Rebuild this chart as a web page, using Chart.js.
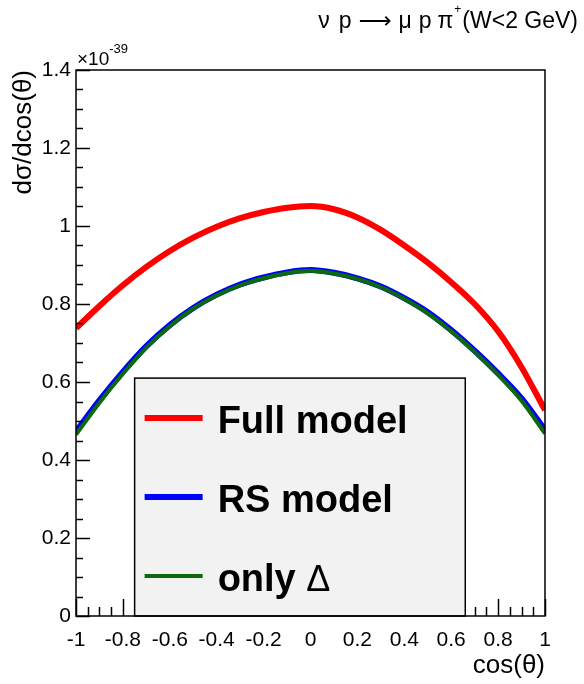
<!DOCTYPE html>
<html><head><meta charset="utf-8">
<script src="https://cdn.jsdelivr.net/npm/chart.js@4.4.1/dist/chart.umd.min.js"></script>
<style>html,body{margin:0;padding:0;background:#fff}#wrap{width:584px;height:684px}</style>
</head><body><div id="wrap"><canvas id="c"></canvas></div>
<script>
// values are in units of 1e-39 (axis multiplier shown top-left)
const cosTheta=[-1,-0.9,-0.8,-0.7,-0.6,-0.5,-0.4,-0.3,-0.2,-0.1,0,0.1,0.2,0.3,0.4,0.5,0.6,0.7,0.8,0.9,1];
const fullModel=[0.738,0.795,0.848,0.895,0.936,0.970,0.998,1.020,1.036,1.047,1.051,1.043,1.022,0.990,0.950,0.906,0.856,0.800,0.730,0.638,0.528];
const rsModel=[0.473,0.553,0.626,0.692,0.746,0.790,0.824,0.850,0.868,0.881,0.887,0.880,0.866,0.845,0.815,0.779,0.733,0.680,0.622,0.558,0.477];
const onlyDelta=[0.465,0.547,0.621,0.688,0.743,0.788,0.822,0.848,0.866,0.879,0.885,0.878,0.864,0.843,0.813,0.776,0.730,0.677,0.618,0.552,0.468];
const seriesNames=['Full model','RS model','only \u0394'];
const seriesColors=['#ff0000','#0000ff','#0b6b0b'];
const seriesWidths=[6,6,4];

const FONT='"Liberation Sans", Arial, sans-serif';
const pts=arr=>cosTheta.map((x,i)=>({x,y:arr[i]}));

const rootStyle={
  id:'rootStyle',
  afterDatasetsDraw(chart){
    const {ctx,chartArea:a,scales:{x,y}}=chart;
    ctx.save();
    ctx.strokeStyle='#000';ctx.lineWidth=1.5;
    // ticks inside the frame, ROOT style
    for(let v=0;v<=1.4001;v+=0.05){
      const major=Math.abs(v/0.2-Math.round(v/0.2))<1e-6;
      const py=Math.round(y.getPixelForValue(v))+0.5;
      ctx.beginPath();ctx.moveTo(a.left,py);ctx.lineTo(a.left+(major?14:7),py);ctx.stroke();
    }
    for(let v=-1;v<=1.0001;v+=0.05){
      const major=Math.abs(v/0.2-Math.round(v/0.2))<1e-6;
      const px=Math.round(x.getPixelForValue(v))+0.5;
      ctx.beginPath();ctx.moveTo(px,a.bottom);ctx.lineTo(px,a.bottom-(major?17:9));ctx.stroke();
    }
    // legend box
    const bx=x.getPixelForValue(-0.75), bx2=x.getPixelForValue(0.66), by=y.getPixelForValue(0.61);
    ctx.fillStyle='#f2f2f2';ctx.fillRect(bx,by,bx2-bx,a.bottom-by);
    ctx.strokeRect(bx,by,bx2-bx,a.bottom-by);
    ctx.textBaseline='alphabetic';ctx.textAlign='left';
    seriesNames.forEach((name,i)=>{
      const ly=by+40+i*79;
      ctx.strokeStyle=seriesColors[i];ctx.lineWidth=seriesWidths[i];
      ctx.beginPath();ctx.moveTo(bx+10,ly);ctx.lineTo(bx+68,ly);ctx.stroke();
      ctx.fillStyle='#000';
      const greek=name.indexOf('\u0394');
      if(greek<0){ctx.font='bold 38px '+FONT;ctx.fillText(name,bx+83,ly+15);}
      else{
        const head=name.slice(0,greek);
        ctx.font='bold 38px '+FONT;ctx.fillText(head,bx+83,ly+15);
        const hw=ctx.measureText(head).width;
        ctx.font='36px '+FONT;ctx.fillText('\u0394',bx+83+hw,ly+15);
      }
    });
    // frame
    ctx.strokeStyle='#000';ctx.lineWidth=1.5;
    ctx.strokeRect(a.left,a.top,a.right-a.left,a.bottom-a.top);
    // exponent label
    ctx.fillStyle='#000';ctx.font='19px '+FONT;
    ctx.fillText('\u00d710',a.left+1,a.top-5);
    const w=ctx.measureText('\u00d710').width;
    ctx.font='13px '+FONT;ctx.fillText('-39',a.left+1+w,a.top-17);
    // title, drawn piece by piece to get ROOT-like spacing
    const parts=[['\u03bd',23,FONT,9],['p',23,FONT,7],['\u27f6',23,'"DejaVu Sans"',7],['\u03bc',23,FONT,7],['p',23,FONT,6],['\u03c0',23,FONT,1],['+',12,FONT,1],['(W<2 GeV)',23,FONT,0]];
    let total=0;
    parts.forEach(p=>{ctx.font=p[1]+'px '+p[2];p.push(ctx.measureText(p[0]).width);total+=p[4]+p[3];});
    let tx=578-total;
    parts.forEach(p=>{ctx.font=p[1]+'px '+p[2];ctx.fillText(p[0],tx,p[1]<20?13:28);tx+=p[4]+p[3];});
    ctx.restore();
  }
};

new Chart(document.getElementById('c'),{
  type:'line',
  data:{datasets:[
    {label:seriesNames[0],data:pts(fullModel),borderColor:seriesColors[0],borderWidth:seriesWidths[0],order:3},
    {label:seriesNames[1],data:pts(rsModel),borderColor:seriesColors[1],borderWidth:seriesWidths[1],order:2},
    {label:seriesNames[2],data:pts(onlyDelta),borderColor:seriesColors[2],borderWidth:seriesWidths[2],order:1}
  ]},
  options:{
    responsive:true,maintainAspectRatio:false,animation:false,
    layout:{padding:{top:70,right:39,left:0,bottom:0}},
    elements:{point:{radius:0},line:{cubicInterpolationMode:'monotone',fill:false}},
    plugins:{legend:{display:false},tooltip:{enabled:false}},
    scales:{
      x:{type:'linear',min:-1,max:1,
        grid:{display:false},border:{display:false},
        ticks:{stepSize:0.2,autoSkip:false,maxRotation:0,padding:4,color:'#000',font:{family:FONT,size:21},
          callback:v=>String(+v.toFixed(1))},
        title:{display:true,text:'cos(\u03b8)',align:'end',color:'#000',font:{family:FONT,size:26},padding:{top:0,bottom:3}},
        afterFit(s){s.height=68;}
      },
      y:{min:0,max:1.4,
        grid:{display:false},border:{display:false},
        ticks:{stepSize:0.2,padding:-3,color:'#000',font:{family:FONT,size:21},
          callback:v=>String(+v.toFixed(1))},
        title:{display:true,text:'d\u03c3/dcos(\u03b8)',align:'end',color:'#000',font:{family:FONT,size:26},padding:{top:8,bottom:0}},
        afterFit(s){s.width=76;}
      }
    }
  },
  plugins:[rootStyle]
});
</script></body></html>
